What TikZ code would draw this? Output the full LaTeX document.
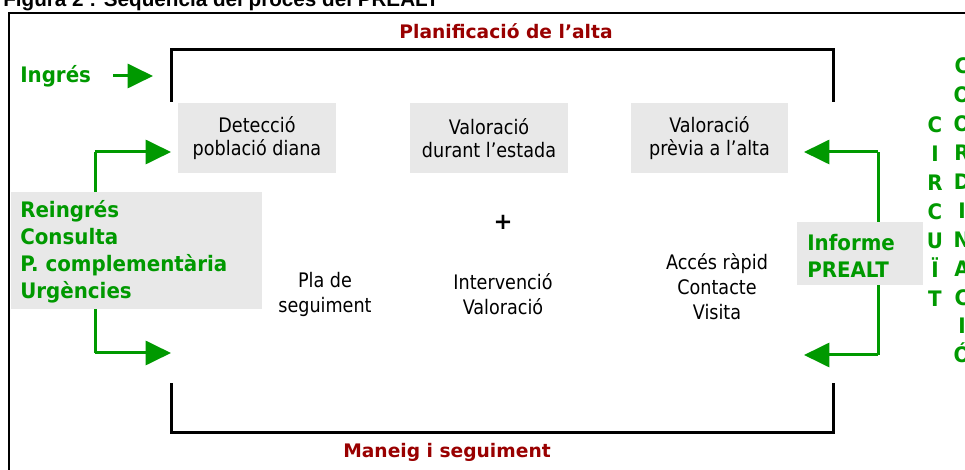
\documentclass[tikz,border=0pt]{standalone}
\usepackage{fontspec}
\setmainfont{DejaVu Sans}
\newfontfamily\titlefont{Liberation Sans}
\newfontfamily\regfont[FakeStretch=0.88]{DejaVu Sans}
\newfontfamily\grfont[FakeStretch=0.93]{DejaVu Sans}
\usetikzlibrary{arrows.meta}
\definecolor{dred}{HTML}{990000}
\definecolor{dgreen}{HTML}{009900}
\definecolor{boxgray}{HTML}{E8E8E8}
\begin{document}
\begin{tikzpicture}[x=0.75pt,y=-0.75pt,
  graybox/.style={fill=boxgray,draw=none,inner sep=0pt,align=center,
    font=\regfont\fontsize{15}{17.5}\selectfont},
  plain/.style={align=center,inner sep=0pt,font=\regfont\fontsize{15}{18.75}\selectfont},
  redlabel/.style={inner sep=0pt,text=dred,font=\bfseries\fontsize{14}{17}\selectfont},
  greentext/.style={text=dgreen,font=\grfont\bfseries\fontsize{16}{20.25}\selectfont},
  vletters/.style={inner sep=0pt,align=center,text=dgreen,font=\grfont\bfseries\fontsize{16}{21.7}\selectfont},
  bracket/.style={line width=2.25pt,line cap=rect},
  garrow/.style={draw=dgreen,line width=2.25pt,-{Triangle[length=19pt,width=18pt]}},
  gline/.style={draw=dgreen,line width=2.25pt}]
\useasboundingbox (0,0) rectangle (965,470);
\clip (0,0) rectangle (965,470);
\fill[white] (0,0) rectangle (965,470);
% title (partly cut off)
\node[anchor=base west,inner sep=0pt,font=\titlefont\bfseries\fontsize{15.5}{18}\selectfont] (title) at (3,7) {Figura 2 : Seqüència del procés del PREALT};
% outer frame
\draw[line width=1.1pt] (9,480) -- (9,13) -- (980,13);
% labels
\node[redlabel] (plan) at (506,31) {Planificació de l’alta};
\node[redlabel] (maneig) at (447,452) {Maneig i seguiment};
% brackets
\draw[bracket] (171,101) -- (171,50) -- (833,50) -- (833,101);
\draw[bracket] (171,385) -- (171,433) -- (833,433) -- (833,385);
% gray boxes
\node[graybox,minimum width=118.5pt,minimum height=52.5pt] (det) at (257,138) {Detecció\\població diana};
\node[graybox,minimum width=118.5pt,minimum height=52.5pt] (vdur) at (489,138) {Valoració\\durant l’estada};
\node[graybox,minimum width=117.75pt,minimum height=52.5pt] (vprev) at (709.5,138) {Valoració\\prèvia a l’alta};
% left gray box
\node[fill=boxgray,inner sep=0pt,minimum width=188.25pt,minimum height=87.75pt] (reing) at (136.5,250.5) {};
\node[greentext,anchor=west,align=left,inner sep=0pt] (reingt) at (20,252) {Reingrés\\Consulta\\P. complementària\\Urgències};
% right gray box
\node[fill=boxgray,inner sep=0pt,minimum width=94.5pt,minimum height=47.25pt] (inf) at (860,253.5) {};
\node[greentext,anchor=west,align=left,inner sep=0pt] (inft) at (807,255.5) {Informe\\PREALT};
% Ingres
\node[greentext,inner sep=0pt,anchor=west] (ing) at (20,76) {Ingrés};
\coordinate (ingS) at (113,76);
\coordinate (ingE) at (153,76);
\draw[garrow] (ingS) -- (ingE);
% middle texts
\node[inner sep=0pt,font=\bfseries\fontsize{17}{20}\selectfont] (plus) at (503,222) {+};
\node[plain] (pla) at (325,294.5) {Pla de\\seguiment};
\node[plain] (interv) at (503,294.5) {Intervenció\\Valoració};
\node[plain] (acces) at (717,286.5) {Accés ràpid\\Contacte\\Visita};
% left connectors
\coordinate (lt) at (95,152);
\coordinate (lb) at (95,353);
\coordinate (ltE) at (171,152);
\coordinate (lbE) at (171,353);
\draw[gline] (reing.north -| lt) -- (lt);
\draw[garrow] (lt) -- (ltE);
\draw[gline] (reing.south -| lb) -- (lb);
\draw[garrow] (lb) -- (lbE);
% right connectors
\coordinate (rt) at (878,152);
\coordinate (rb) at (878,355);
\coordinate (rtE) at (804,152);
\coordinate (rbE) at (804,355);
\draw[gline] (inf.north -| rt) -- (rt);
\draw[garrow] (rt) -- (rtE);
\draw[gline] (inf.south -| rb) -- (rb);
\draw[garrow] (rb) -- (rbE);
% vertical words
\node[vletters] (circ) at (935,211.5) {C\\I\\R\\C\\U\\Ï\\T};
\node[vletters] (coord) at (962,210.5) {C\\O\\O\\R\\D\\I\\N\\A\\C\\I\\Ó};
\end{tikzpicture}
\end{document}
